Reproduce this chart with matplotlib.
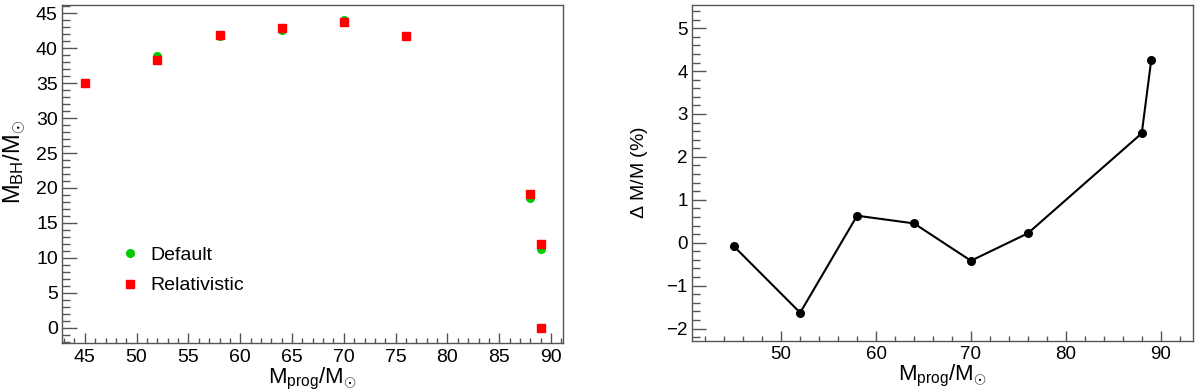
import matplotlib
matplotlib.use("Agg")
import matplotlib.pyplot as plt
from matplotlib.ticker import MultipleLocator

plt.rcParams['font.family'] = ['Liberation Sans', 'DejaVu Sans']
plt.rcParams['mathtext.fontset'] = 'custom'
plt.rcParams['mathtext.rm'] = 'Liberation Sans'
plt.rcParams['mathtext.it'] = 'Liberation Sans'

# masas del progenitor y masa final del agujero negro
prog = [45, 52, 58, 64, 70, 76, 88, 89, 89]
bh_default = [35.1, 38.9, 41.7, 42.6, 44.0, 41.8, 18.6, 11.2, 0.0]
bh_relativistic = [35.1, 38.3, 41.9, 42.9, 43.8, 41.8, 19.1, 12.0, 0.0]

# diferencia relativa en %
dm_prog = [45, 52, 58, 64, 70, 76, 88, 89]
dm_pct = [-0.08, -1.63, 0.63, 0.45, -0.42, 0.22, 2.55, 4.26]

frame = '#555555'
xlabel = r'$\mathrm{M_{prog}/M_{\odot}}$'

fig = plt.figure(figsize=(12, 3.9), dpi=100)
ax1 = fig.add_axes([62/1200, 47/390, 501/1200, 338/390])
ax2 = fig.add_axes([692/1200, 49/390, 501/1200, 336/390])

def estilo_root(ax, xmaj, xmin, ymaj, ymin, ylen, ypad, xpad, size):
    for s in ax.spines.values():
        s.set_color(frame)
        s.set_linewidth(1.0)
    ax.xaxis.set_major_locator(MultipleLocator(xmaj))
    ax.xaxis.set_minor_locator(MultipleLocator(xmin))
    ax.yaxis.set_major_locator(MultipleLocator(ymaj))
    ax.yaxis.set_minor_locator(MultipleLocator(ymin))
    ax.tick_params(which='both', direction='in', top=False, right=False,
                   color=frame, width=1.0, labelsize=size)
    ax.tick_params(axis='y', which='major', length=ylen, pad=ypad)
    ax.tick_params(axis='y', which='minor', length=ylen * 0.54)
    ax.tick_params(axis='x', which='major', length=7.0, pad=xpad)
    ax.tick_params(axis='x', which='minor', length=3.6)

# panel izquierdo
ax1.plot(prog, bh_default, 'o', color='#00cc00', markersize=5.5, label='Default')
ax1.plot(prog, bh_relativistic, 's', color='#ff0000', markersize=5.5, label='Relativistic')
ax1.set_xlim(42.8, 91.15)
ax1.set_ylim(-2.2, 46.2)
estilo_root(ax1, 5, 1, 5, 1, 10.6, 3.0, 4.0, 14)
ax1.set_xlabel(xlabel, fontsize=16, labelpad=0)
ax1.set_ylabel(r'$\mathrm{M_{BH}/M_{\odot}}$', fontsize=17)
ax1.yaxis.set_label_coords(-0.068, 0.535)
ax1.legend(loc='upper left', bbox_to_anchor=(0.1, 0.31), frameon=False,
           fontsize=14, handletextpad=0.55, labelspacing=0.68, handlelength=1.0,
           borderaxespad=0)

# panel derecho
ax2.plot(dm_prog, dm_pct, '-o', color='black', linewidth=1.5, markersize=5.5)
ax2.set_xlim(40.6, 93.4)
ax2.set_ylim(-2.29, 5.54)
estilo_root(ax2, 10, 2, 1, 0.2, 10.3, 3.0, 3.5, 13.5)
ax2.set_xlabel(xlabel, fontsize=16, labelpad=0)
ax2.set_ylabel(r'$\Delta$ M/M (%)', fontsize=14)
ax2.yaxis.set_label_coords(-0.084, 0.5)

fig.savefig('out.png', dpi=100)
